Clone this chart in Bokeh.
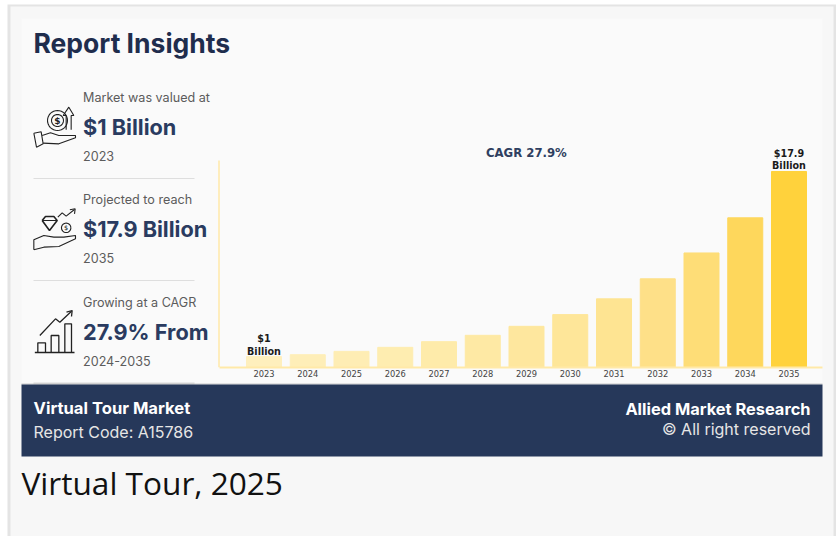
import numpy as np
from bokeh.plotting import figure
from bokeh.layouts import column
from bokeh.models import Range1d, FixedTicker, ColumnDataSource
from bokeh.core.properties import value
from bokeh.embed import file_html
from bokeh.resources import INLINE

years = [2023, 2024, 2025, 2026, 2027, 2028, 2029, 2030, 2031, 2032, 2033, 2034, 2035]
market = [1.0, 1.17, 1.47, 1.84, 2.36, 2.94, 3.76, 4.83, 6.27, 8.1, 10.46, 13.67, 17.9]
bar_colors = ["#feefbd", "#feeeb8", "#feedb4", "#feedb0", "#feebaa", "#fee9a4", "#fee79e",
              "#fee699", "#fee492", "#fee088", "#fedd77", "#fed75c", "#ffd23c"]
value_labels = ["$1\nBillion", "", "", "", "", "", "", "", "", "", "", "", "$17.9\nBillion"]

W, H = 836, 536
BASE = 367
TOP = 140
PX_PER_UNIT = 10.95
PX_PER_YEAR = 43.75
FL, FR = 218.5, 822

# ---- backdrop: page panels, texts and icons, in page pixels ----
bg = figure(width=W, height=H, output_backend="svg", toolbar_location=None,
            x_range=Range1d(0, W), y_range=Range1d(H, 0),
            x_axis_location=None, y_axis_location=None,
            min_border=0, min_border_left=0, min_border_right=0, min_border_top=0, min_border_bottom=0)
bg.grid.visible = False
bg.outline_line_color = None
bg.background_fill_color = "#ffffff"
bg.border_fill_color = "#ffffff"


def box(x0, y0, x1, y1, color):
    bg.quad(left=[x0], right=[x1], top=[y0], bottom=[y1], fill_color=color, line_color=None)


def text(x, y, s, size, color, font="Inter", style="normal", align="left"):
    bg.text(x=[x], y=[y - 0.8], text=[s], text_font=value(font), text_font_style=style,
            text_font_size=f"{size}px", text_color=color, text_align=align, text_baseline="middle")


def poly(pts, closed=False, width=1.1, color="#222222"):
    pts = list(pts)
    if closed:
        pts = pts + pts[:1]
    bg.line(x=[a for a, _ in pts], y=[b for _, b in pts], line_color=color, line_width=width)


def circle(cx, cy, r, **kw):
    th = np.linspace(0, 2 * np.pi, 32, endpoint=False)
    poly([(cx + r * np.cos(t), cy + r * np.sin(t)) for t in th], closed=True, **kw)


def z(points, oy=0):
    return [(a / 3, b / 3 + oy) for a, b in points]


box(7, 4, 836, 536, "#e4e4e4")
box(10, 6, 833, 536, "#f7f7f7")
box(21, 18, 822, 384, "#fafafa")
box(33, 382, 194, 384, "#d8d8d8")
box(21, 383, 822, 384, "#c8c8c8")
box(21, 384, 822, 456, "#26385a")
for yy in (178, 280):
    box(33, yy - 0.5, 194, yy + 0.5, "#dedede")

text(33, 43, "Report Insights", 26.5, "#1f2d4d", style="bold")
NAVY = "#2a3b60"
GREY = "#5c5c5c"
SMALL = 12.6
HERO = 21.7
text(82.5, 98, "Market was valued at", SMALL, GREY)
text(82.5, 127, "$1 Billion", HERO, NAVY, style="bold")
text(82.5, 156, "2023", SMALL, GREY)
text(82.5, 200, "Projected to reach", SMALL, GREY)
text(82.5, 229, "$17.9 Billion", HERO, NAVY, style="bold")
text(82.5, 258, "2035", SMALL, GREY)
text(82.5, 303, "Growing at a CAGR", SMALL, GREY)
text(82.5, 332, "27.9% From", HERO, NAVY, style="bold")
text(82.5, 361, "2024-2035", SMALL, GREY)

text(485.5, 152.8, "CAGR 27.9%", 11.7, "#2f3f60", font="DejaVu Sans", style="bold")

text(33, 408, "Virtual Tour Market", 16.6, "#ffffff", style="bold")
text(33, 432, "Report Code: A15786", 16, "#e6e6e6")
text(810, 409, "Allied Market Research", 16.4, "#ffffff", style="bold", align="right")
text(810, 429, "© All right reserved", 16, "#e6e6e6", align="right")
text(21, 483, "Virtual Tour, 2025", 31.6, "#111111", font="Open Sans")

# icon 1: hand with coin and arrow
poly(z([(100, 398), (122, 394), (128, 430), (108, 440), (100, 398)]))
poly(z([(125, 405), (150, 397), (175, 405), (195, 405), (225, 405), (225, 412), (175, 430), (128, 428)]))
circle(57, 120, 10)
circle(57, 120, 6)
text(57, 120.8, "$", 9, "#222222", font="DejaVu Sans", style="bold", align="center")
poly(z([(197, 388), (197, 345), (188, 345), (205, 320), (220, 345), (212, 345), (212, 388)]))
# icon 2: hand with diamond, coin and arrow
poly(z([(100, 238), (100, 208), (130, 195), (160, 200), (190, 200), (225, 195), (225, 205), (175, 228), (130, 230), (100, 238)], 170))
poly(z([(125, 150), (135, 138), (160, 138), (170, 150), (147, 180)], 170), closed=True, width=1.6)
poly(z([(125, 150), (170, 150)], 170))
circle(197 / 3, 172 / 3 + 170, 4.7)
text(197 / 3, 172 / 3 + 170.8, "$", 6.5, "#222222", font="DejaVu Sans", align="center")
poly(z([(172, 140), (185, 127), (197, 137), (222, 117)], 170))
poly(z([(208, 118), (224, 115), (222, 130)], 170))
# icon 3: rising bars with arrow
poly(z([(103, 546), (222, 546)], 170), width=1.4)
poly(z([(112, 546), (112, 517), (135, 517), (135, 546)], 170), width=1.3)
poly(z([(152, 546), (152, 495), (175, 495), (175, 546)], 170), width=1.3)
poly(z([(193, 546), (193, 460), (213, 460), (213, 546)], 170), width=1.3)
poly(z([(118, 495), (165, 445), (178, 455), (213, 422)], 170), width=1.3)
poly(z([(198, 425), (215, 420), (213, 438)], 170), width=1.3)

# ---- the chart itself, transparent, laid over the backdrop ----
axis_left = 2023 - (263.5 - FL) / PX_PER_YEAR
axis_right = 2035 + (FR - 788.5) / PX_PER_YEAR
p = figure(width=W, height=H, output_backend="svg", toolbar_location=None,
           x_range=Range1d(2023 - 263.5 / PX_PER_YEAR, 2035 + (W - 788.5) / PX_PER_YEAR),
           y_range=Range1d(0, (BASE - TOP) / PX_PER_UNIT),
           y_axis_location=None,
           min_border_left=0, min_border_right=0, min_border_top=TOP, min_border_bottom=H - BASE)
p.styles = {"margin-top": f"-{H}px"}
p.background_fill_color = None
p.border_fill_color = None
p.outline_line_color = None
p.grid.visible = False

src = ColumnDataSource(dict(year=years, v=market, c=bar_colors, t=value_labels))
p.segment(x0=[axis_left], x1=[axis_left], y0=[0], y1=[18.9], line_color="#ffe9a8", line_width=1.5)
p.vbar(x="year", top="v", bottom=0, width=0.8, color="c", source=src)
p.text(x="year", y="v", text="t", source=src, text_align="center", text_baseline="bottom",
       text_font=value("DejaVu Sans"), text_font_style="bold", text_font_size="9.6px",
       text_color="#1a1a1a", text_line_height=1.1, y_offset=0)

ax = p.xaxis[0]
ax.ticker = FixedTicker(ticks=years)
ax.bounds = (axis_left, axis_right)
ax.axis_line_color = "#ffe9a8"
ax.axis_line_width = 2
ax.major_tick_line_color = None
ax.minor_tick_line_color = None
ax.major_label_standoff = -4
ax.major_label_text_font = "DejaVu Sans"
ax.major_label_text_font_size = "8.3px"
ax.major_label_text_color = "#444444"

open("out.html", "w").write(file_html(column(bg, p), INLINE))
